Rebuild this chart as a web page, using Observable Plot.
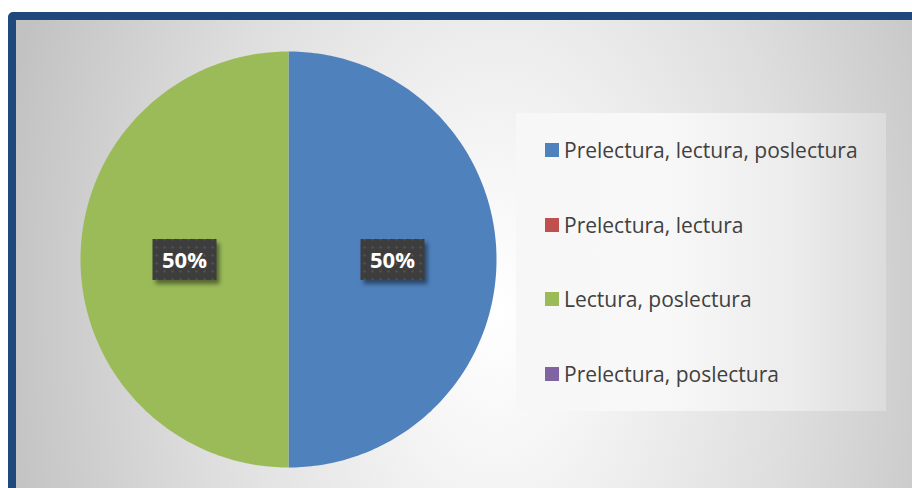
<!DOCTYPE html>
<html><head><meta charset="utf-8">
<script src="https://cdn.jsdelivr.net/npm/d3@7"></script>
<script src="https://cdn.jsdelivr.net/npm/@observablehq/plot@0.6"></script>
<style>
body{margin:0;width:912px;height:488px;overflow:hidden;background:#fff;font-family:"Open Sans",sans-serif;}
#frame{position:absolute;left:8px;top:12px;width:930px;height:500px;box-sizing:border-box;border:8px solid #1F497D;border-radius:5px 0 0 0;
  background:radial-gradient(500px 800px at 480px 290px, #ffffff 0%, #f5f5f5 20%, #dedede 60%, #c8c8c8 92%, #c2c2c2 100%);}
#chart{position:absolute;left:0;top:0;}
#legend{position:absolute;left:516px;top:113px;width:370px;height:298px;
  background:linear-gradient(90deg,#f7f7f7 0%,#f8f8f8 40%,#ececec 75%,#dcdcdc 100%);}
.item{position:absolute;left:29px;height:24px;display:flex;align-items:center;font-size:21px;color:#404040;white-space:nowrap;}
.sw{width:14px;height:14px;margin-right:5px;flex:none;}
</style></head>
<body>
<div id="frame"></div>
<div id="chart"></div>
<div id="legend"></div>
<script>
const categories = ["Prelectura, lectura, poslectura", "Prelectura, lectura", "Lectura, poslectura", "Prelectura, poslectura"];
const values = [50, 0, 50, 0];
const colors = ["#4F81BD", "#C0504D", "#9BBB59", "#8064A2"];

const total = d3.sum(values);
const arcs = d3.pie().sort(null).value(d => d)(values);

// slice outlines from pie angles
const pts = [];
arcs.forEach((a, i) => {
  if (a.value <= 0) return;
  const cat = categories[i];
  pts.push({cat, x: 0, y: 0});
  const n = 200;
  for (let k = 0; k <= n; k++) {
    const t = a.startAngle + (a.endAngle - a.startAngle) * k / n;
    pts.push({cat, x: Math.sin(t), y: Math.cos(t)});
  }
  pts.push({cat, x: 0, y: 0});
});

const labels = arcs.filter(a => a.value > 0).map(a => {
  const m = (a.startAngle + a.endAngle) / 2;
  return {x: 0.5 * Math.sin(m), y: 0.5 * Math.cos(m), text: Math.round(a.value / total * 100) + "%"};
});

const box = {draw(ctx) { ctx.rect(-32, -20.5, 64, 41); }};

const plot = Plot.plot({
  width: 912, height: 488,
  marginLeft: 80, marginRight: 416, marginTop: 51, marginBottom: 21,
  x: {domain: [-1, 1], axis: null},
  y: {domain: [-1, 1], axis: null},
  color: {domain: categories, range: colors},
  style: {background: "transparent", overflow: "visible"},
  marks: [
    Plot.line(pts, {x: "x", y: "y", z: "cat", fill: "cat", stroke: "none", curve: "linear"}),
    Plot.dot(labels, {x: "x", y: "y", symbol: box, r: 5, fill: "#000", fillOpacity: 0.45, stroke: "none", dx: 3, dy: 4}),
    Plot.dot(labels, {x: "x", y: "y", symbol: box, r: 5, fill: "url(#dots)", stroke: "none"}),
    Plot.text(labels, {x: "x", y: "y", text: "text", fill: "#fff", fontSize: 22, fontWeight: "bold", fontFamily: "Open Sans", dy: 1})
  ]
});
const ns = "http://www.w3.org/2000/svg";
const defs = document.createElementNS(ns, "defs");
defs.innerHTML = '<pattern id="dots" width="8" height="8" patternUnits="userSpaceOnUse"><rect width="8" height="8" fill="#3d3d3d"/><rect x="3" y="3" width="2" height="2" fill="#555555"/></pattern>' +
  '<filter id="blur" x="-20%" y="-30%" width="140%" height="160%"><feGaussianBlur stdDeviation="2.2"/></filter>';
plot.insertBefore(defs, plot.firstChild);
const dotGroups = plot.querySelectorAll('g[aria-label="dot"]');
if (dotGroups.length) dotGroups[0].setAttribute("filter", "url(#blur)");
document.getElementById("chart").appendChild(plot);

const rowsY = [37, 112, 186, 261];
const leg = d3.select("#legend");
categories.forEach((c, i) => {
  const it = leg.append("div").attr("class", "item").style("top", (rowsY[i] - 12) + "px");
  it.append("div").attr("class", "sw").style("background", colors[i]);
  it.append("span").text(c);
});
</script>
</body></html>
